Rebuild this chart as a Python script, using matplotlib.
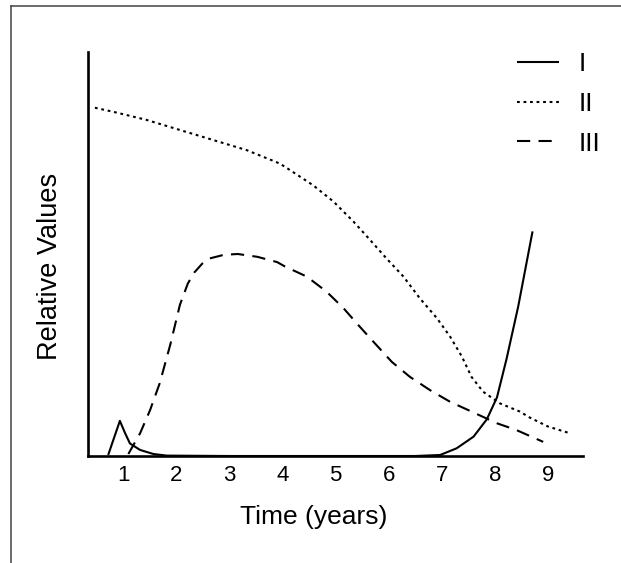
import matplotlib
matplotlib.use("Agg")
import matplotlib.pyplot as plt
from matplotlib.lines import Line2D

plt.rcParams['font.family'] = ['Liberation Sans', 'DejaVu Sans']
plt.rcParams['lines.scale_dashes'] = False

# Data
x_I = [0.72, 0.94, 1.04, 1.13, 1.32, 1.57, 1.82, 3.0, 5.0, 6.5, 6.97, 7.28, 7.6, 7.85, 8.04, 8.22, 8.44, 8.71]
y_I = [0.25, 8.7, 5.6, 3.1, 1.5, 0.5, 0.1, 0.0, 0.0, 0.0, 0.25, 1.9, 4.8, 9.1, 14.5, 24.0, 37.0, 55.6]

x_II = [0.47, 0.815, 1.44, 2.07, 2.70, 3.33, 3.95, 4.14, 4.58, 4.96, 5.34, 5.65, 5.96, 6.28, 6.59, 6.91, 7.16, 7.38,
        7.56, 7.78, 8.10, 8.47, 8.66, 9.0, 9.42]
y_II = [86.2, 85.2, 83.2, 80.7, 78.2, 75.7, 72.4, 70.8, 67.0, 63.0, 58.0, 53.5, 48.9, 44.4, 39.0, 34.1, 29.5, 24.6,
        19.6, 15.9, 13.0, 11.0, 9.5, 7.3, 5.6]

x_III = [1.10, 1.32, 1.51, 1.69, 1.89, 2.07, 2.22, 2.34, 2.49, 2.63, 2.90, 3.16, 3.53, 3.90, 4.05, 4.46, 4.83, 5.15,
         5.43, 5.74, 6.06, 6.40, 6.78, 7.16, 7.56, 8.04, 8.41, 8.91]
y_III = [0.5, 5.6, 11.4, 18.0, 27.6, 37.4, 42.7, 45.4, 47.6, 48.9, 49.8, 50.0, 49.3, 48.0, 46.9, 44.4, 40.7, 36.6,
         32.4, 27.9, 23.3, 19.6, 16.3, 13.4, 11.0, 8.1, 6.4, 3.5]

labels = ['I', 'II', 'III']
xticks = [1, 2, 3, 4, 5, 6, 7, 8, 9]

fig = plt.figure(figsize=(6.21, 5.63), dpi=100)
ax = fig.add_axes([88/621, 1-456/563, (583-88)/621, (456-52)/563])

lw = 1.5
ax.plot(x_I, y_I, color='black', lw=lw, solid_capstyle='butt', solid_joinstyle='round', label=labels[0])
ax.plot(x_II, y_II, color='black', lw=lw, dashes=(2.0, 2.7), label=labels[1])
ax.plot(x_III, y_III, color='black', lw=lw, dashes=(9.5, 6.0), label=labels[2])

ax.set_xlim(0.34, 9.66)
ax.set_ylim(0, 100)
ax.set_xticks(xticks)
ax.set_xticklabels([str(t) for t in xticks])
ax.set_yticks([])
ax.tick_params(axis='x', length=0, pad=6.5, labelsize=16)

for s in ['top', 'right']:
    ax.spines[s].set_visible(False)
for s in ['left', 'bottom']:
    ax.spines[s].set_linewidth(1.9)
    ax.spines[s].set_color('black')

ax.set_xlabel('Time (years)', fontsize=19)
ax.xaxis.set_label_coords((314-88)/(583-88), -(517-456)/(456-52), transform=ax.transAxes)
ax.xaxis.label.set_va('center')
ax.set_ylabel('Relative Values', fontsize=19.5)
ax.yaxis.set_label_coords(-(88-50)/(583-88), (456-266)/(456-52))
ax.yaxis.label.set_va('center')

leg = ax.legend(loc='upper left', bbox_to_anchor=(517/621, 1-52/563), bbox_transform=fig.transFigure,
                frameon=False, fontsize=19, handlelength=1.6, handletextpad=0.75,
                labelspacing=0.6, borderpad=0, borderaxespad=0)

# Outer frame lines (left and top)
fig.add_artist(Line2D([10.5/621, 10.5/621], [0, 1-6/563], transform=fig.transFigure, color='#444444', lw=1.1))
fig.add_artist(Line2D([10.5/621, 1], [1-6/563, 1-6/563], transform=fig.transFigure, color='#444444', lw=1.1))

fig.savefig('out.png', dpi=100)
